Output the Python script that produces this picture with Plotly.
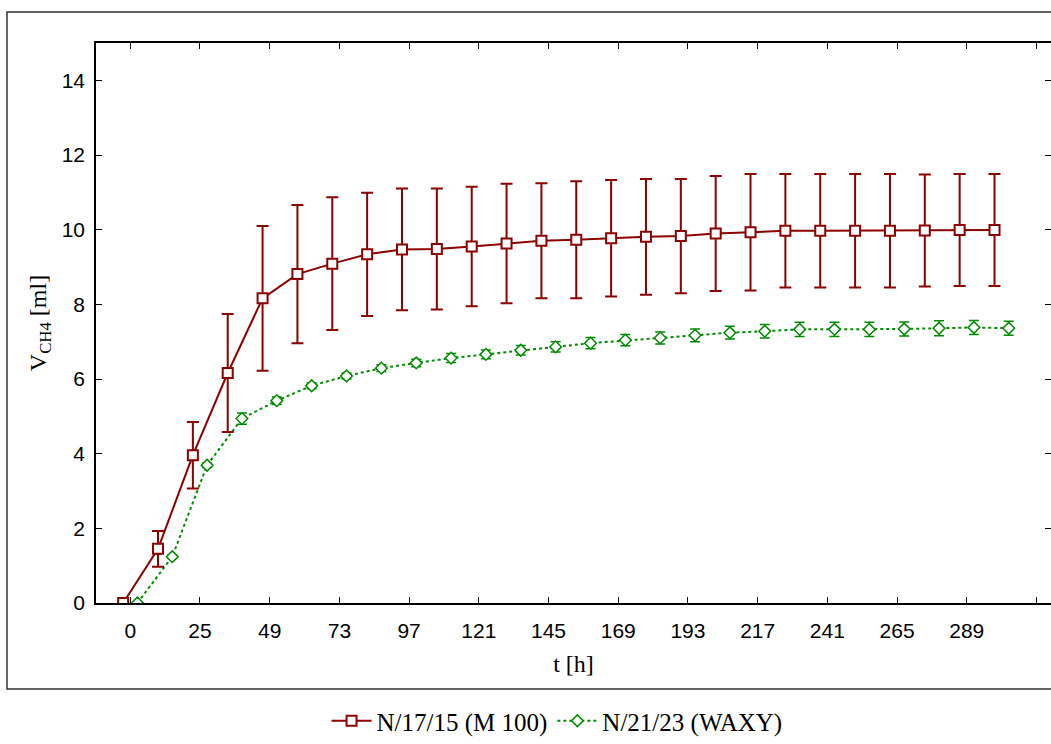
import plotly.graph_objects as go

# time points (h) and tick labels
hours = [1 + 12 * k for k in range(26)]
tick_vals = [1, 25, 49, 73, 97, 121, 145, 169, 193, 217, 241, 265, 289, 313]
tick_text = ["0", "25", "49", "73", "97", "121", "145", "169", "193", "217", "241", "265", "289", " "]

# N/17/15 (M 100)
m100_mean = [0.00, 1.45, 3.96, 6.16, 8.16, 8.81, 9.09, 9.34, 9.47, 9.48, 9.55, 9.63, 9.70,
             9.73, 9.77, 9.81, 9.83, 9.90, 9.93, 9.97, 9.97, 9.97, 9.97, 9.98, 9.99, 9.99]
m100_err = [0.00, 0.48, 0.89, 1.58, 1.94, 1.85, 1.78, 1.65, 1.63, 1.62, 1.60, 1.60, 1.54,
            1.57, 1.56, 1.55, 1.53, 1.54, 1.56, 1.52, 1.52, 1.52, 1.52, 1.50, 1.50, 1.50]

# N/21/23 (WAXY)
waxy_mean = [0.00, 1.24, 3.69, 4.94, 5.42, 5.82, 6.08, 6.29, 6.43, 6.56, 6.66, 6.77, 6.86,
             6.96, 7.04, 7.10, 7.17, 7.24, 7.28, 7.33, 7.33, 7.33, 7.34, 7.36, 7.38, 7.36]
waxy_err = [0.00, 0.05, 0.06, 0.15, 0.10, 0.08, 0.08, 0.09, 0.10, 0.12, 0.12, 0.13, 0.14,
            0.15, 0.15, 0.16, 0.17, 0.17, 0.18, 0.19, 0.19, 0.19, 0.19, 0.20, 0.19, 0.19]

names = ["N/17/15 (M 100)", "N/21/23 (WAXY)"]
RED = "#8b0000"
GREEN = "#008a00"
shift = 2.45

fig = go.Figure()
fig.add_trace(go.Scatter(
    x=[h + shift for h in hours], y=waxy_mean, name=names[1], mode="lines+markers",
    line=dict(color=GREEN, width=2, dash="dot"),
    marker=dict(symbol="diamond", size=9, color="white", line=dict(color=GREEN, width=1.5)),
    error_y=dict(type="data", array=waxy_err, visible=True, color=GREEN, thickness=1.5, width=5),
))
fig.add_trace(go.Scatter(
    x=[h - shift for h in hours], y=m100_mean, name=names[0], mode="lines+markers",
    line=dict(color=RED, width=2),
    marker=dict(symbol="square", size=10, color="white", line=dict(color=RED, width=2)),
    error_y=dict(type="data", array=m100_err, visible=True, color=RED, thickness=2, width=6),
))

axis_font = dict(family="Liberation Sans, Arial", size=21, color="black")
title_font = dict(family="Liberation Serif, Times New Roman", size=24, color="black")
legend_font = dict(family="Liberation Serif, Times New Roman", size=25, color="black")

fig.update_layout(
    width=1051, height=744,
    margin=dict(l=96, r=0, t=43, b=141, autoexpand=False),
    paper_bgcolor="white", plot_bgcolor="white",
    showlegend=True,
    legend=dict(orientation="h", x=0.53, y=0.0, xref="container", yref="container",
                xanchor="center", yanchor="bottom", tracegroupgap=0,
                font=legend_font, traceorder="reversed", itemwidth=40),
    xaxis=dict(range=[-10.8, 318], tickvals=tick_vals, ticktext=tick_text,
               ticks="inside", ticklen=6, tickcolor="black", showline=True, linecolor="black",
               linewidth=1.5, mirror="ticks", showgrid=False, zeroline=False,
               tickfont=axis_font, ticklabelstandoff=8,
               title=dict(text="t [h]", font=title_font, standoff=14)),
    yaxis=dict(range=[0, 15], tickvals=[0, 2, 4, 6, 8, 10, 12, 14],
               ticks="inside", ticklen=6, tickcolor="black", showline=True, linecolor="black",
               linewidth=1.5, mirror="ticks", showgrid=False, zeroline=False,
               tickfont=axis_font, ticklabelstandoff=5,
               title=dict(text="V<sub>CH4</sub> [ml]", font=title_font, standoff=8)),
    shapes=[dict(type="rect", xref="paper", yref="paper", x0=-0.0932, x1=1.2,
                 y0=-0.1536, y1=1.0554, line=dict(color="#333333", width=1.5),
                 fillcolor="rgba(0,0,0,0)", layer="below")],
)

fig.write_html("out.html")
